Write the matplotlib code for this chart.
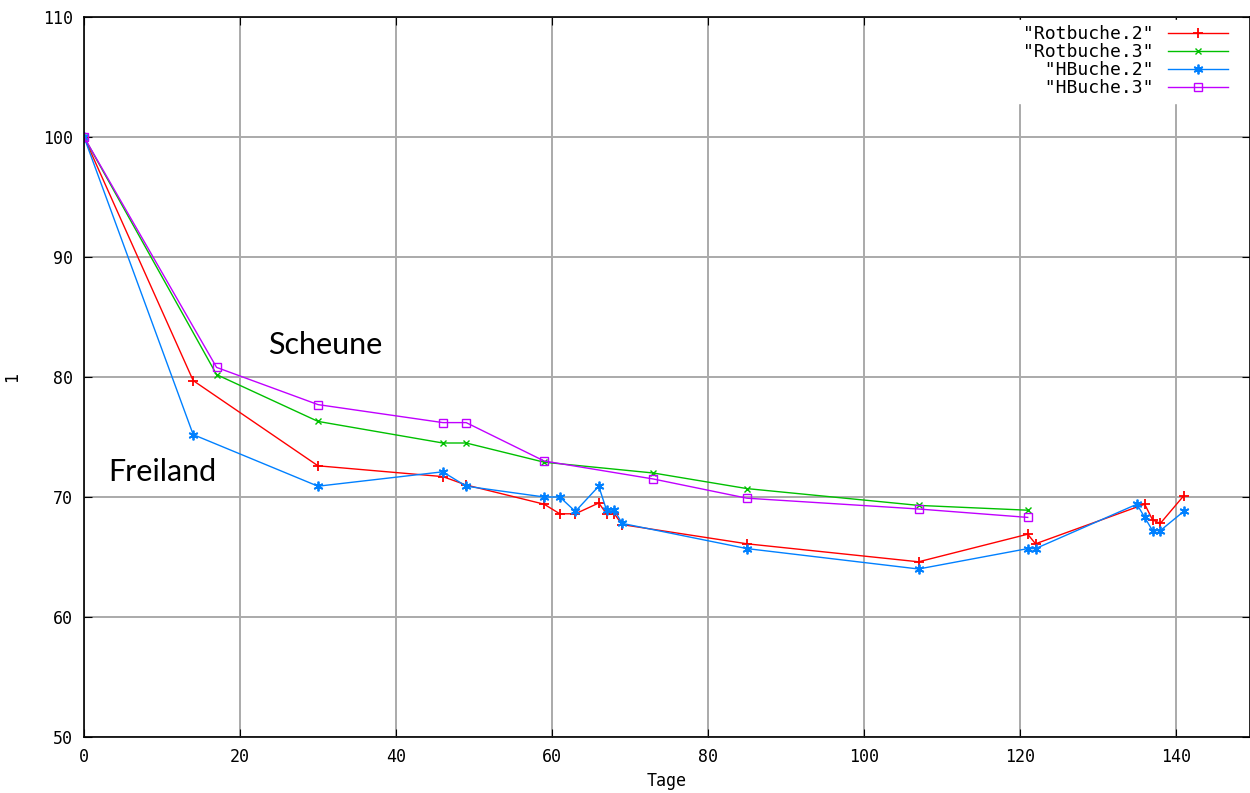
#!/usr/bin/env python3
"""Trocknungsverlauf Rotbuche / Hainbuche (Scheune vs. Freiland)."""

import matplotlib
matplotlib.use("Agg")
import matplotlib.pyplot as plt

# Tage / relative Masse
rot2_x = [0, 14, 30, 46, 49, 59, 61, 63, 66, 67, 68, 69, 85, 107, 121, 122, 136, 137, 138, 141]
rot2_y = [100, 79.7, 72.6, 71.7, 71.0, 69.4, 68.6, 68.6, 69.5, 68.6, 68.6, 67.7, 66.1, 64.6, 66.9, 66.1, 69.4, 68.1, 67.8, 70.1]

rot3_x = [0, 17, 30, 46, 49, 59, 73, 85, 107, 121]
rot3_y = [100, 80.2, 76.3, 74.5, 74.5, 72.9, 72.0, 70.7, 69.3, 68.9]

hb2_x = [0, 14, 30, 46, 49, 59, 61, 63, 66, 67, 68, 69, 85, 107, 121, 122, 135, 136, 137, 138, 141]
hb2_y = [100, 75.2, 70.9, 72.1, 70.9, 70.0, 70.0, 68.8, 70.9, 68.9, 68.9, 67.8, 65.7, 64.0, 65.7, 65.7, 69.4, 68.3, 67.2, 67.2, 68.8]

hb3_x = [0, 17, 30, 46, 49, 59, 73, 85, 107, 121]
hb3_y = [100, 80.8, 77.7, 76.2, 76.2, 73.0, 71.5, 69.9, 69.0, 68.3]

labels = ['"Rotbuche.2"', '"Rotbuche.3"', '  "HBuche.2"', '  "HBuche.3"']

mono = "DejaVu Sans Mono"

fig = plt.figure(figsize=(12.5, 7.93), dpi=100)
ax = fig.add_axes([84 / 1250, 1 - 737 / 793, 1 - 84 / 1250, 720 / 793])

ax.plot(rot2_x, rot2_y, color="#ff0000", lw=1.0, marker="+", ms=7, mew=1.3, label=labels[0])
ax.plot(rot3_x, rot3_y, color="#00c000", lw=1.0, marker="x", ms=5, mew=1.0, label=labels[1])
ax.plot(hb2_x, hb2_y, color="#0080ff", lw=1.0, marker=(6, 2, 0), ms=7, mew=1.3, label=labels[2])
ax.plot(hb3_x, hb3_y, color="#c000ff", lw=1.0, marker="s", ms=5.5, mew=1.0,
        fillstyle="none", label=labels[3])

ax.set_xlim(0, 149.5)
ax.set_ylim(50, 110)
ax.set_xticks(range(0, 141, 20))
ax.set_yticks(range(50, 111, 10))
ax.grid(True, color="#aaaaaa", lw=1.4)
ax.set_axisbelow(True)
ax.tick_params(direction="in", top=True, right=True, length=6, labelsize=12, pad=8)
for lbl in ax.get_xticklabels() + ax.get_yticklabels():
    lbl.set_family(mono)
for sp in ax.spines.values():
    sp.set_linewidth(1.2)

ax.set_xlabel("Tage", family=mono, fontsize=12, labelpad=4)
ax.set_ylabel("1", family=mono, fontsize=12, labelpad=16)

ax.text(30.9, 82.7, "Scheune", fontsize=22, ha="center", va="center", family="Lato")
ax.text(10.0, 72.1, "Freiland", fontsize=22, ha="center", va="center", family="Lato")

leg = ax.legend(loc="upper right", bbox_to_anchor=(1 - 17 / 1166, 1 - 3 / 720),
                markerfirst=False, frameon=True, framealpha=1,
                edgecolor="white", fancybox=False, prop={"family": mono, "size": 13},
                handlelength=3.3, handletextpad=0.8, labelspacing=0.0,
                borderaxespad=0.0, borderpad=0.3)

fig.savefig("out.png", dpi=100)
